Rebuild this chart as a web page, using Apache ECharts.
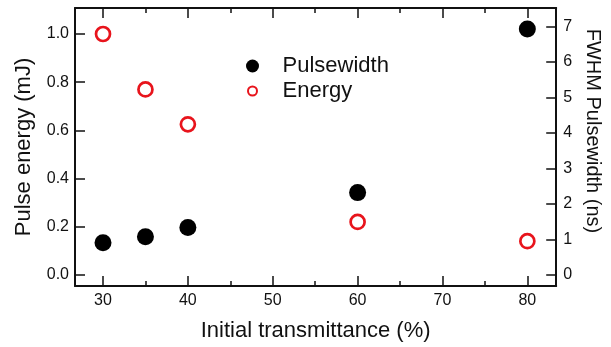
<!DOCTYPE html>
<html>
<head>
<meta charset="utf-8">
<script src="https://cdn.jsdelivr.net/npm/echarts@6/dist/echarts.min.js"></script>
<style>
    html, body { margin: 0; padding: 0; background: #fff; }
    #chart { width: 611px; height: 347px; }
</style>
</head>
<body>
<div id="chart"></div>
<script>
// initial transmittance (%)
var transmittance = [30, 35, 40, 60, 80];
// FWHM pulsewidth (ns), right axis
var pulsewidth = [0.91, 1.08, 1.34, 2.32, 6.93];
// pulse energy (mJ), left axis
var energy = [1.0, 0.77, 0.625, 0.22, 0.14];

var xTicks = [30, 40, 50, 60, 70, 80];
var energyTicks = [0, 0.2, 0.4, 0.6, 0.8, 1.0];
var widthTicks = [0, 1, 2, 3, 4, 5, 6, 7];

var font = 'Liberation Sans, Arial, Helvetica, sans-serif';
var red = '#e8141c';
var ink = '#111';

var chart = echarts.init(document.getElementById('chart'), null, { renderer: 'canvas' });

// onZero off, otherwise the x axes snap to y = 0
function axisLine() {
    return { show: true, onZero: false, lineStyle: { color: ink, width: 2 } };
}
function ticks(values, len) {
    return { show: true, inside: true, length: len, customValues: values, lineStyle: { color: ink, width: 1.5 } };
}
function minor() {
    return { show: true, splitNumber: 2, length: 5, lineStyle: { color: ink, width: 1.5 } };
}

function pairs(ys) {
    return transmittance.map(function (x, i) { return [x, ys[i]]; });
}

var option = {
    animation: false,
    backgroundColor: '#fff',
    textStyle: { fontFamily: font, color: ink },
    grid: { left: 75, right: 53, top: 8, bottom: 61, containLabel: false },
    legend: [
        {
            data: ['Pulsewidth'],
            orient: 'vertical',
            left: 246, top: 55,
            padding: 0,
            itemWidth: 50, itemHeight: 13,
            selectedMode: false,
            textStyle: { fontFamily: font, fontSize: 22, color: ink }
        },
        {
            data: [{ name: 'Energy', itemStyle: { color: '#fff', borderColor: red, borderWidth: 2 } }],
            orient: 'vertical',
            left: 247, top: 80,
            padding: 0,
            itemWidth: 50, itemHeight: 9,
            selectedMode: false,
            textStyle: { fontFamily: font, fontSize: 22, color: ink }
        }
    ],
    xAxis: [
        {
            type: 'value',
            position: 'bottom',
            min: 26.7, max: 83.4,
            name: 'Initial transmittance (%)',
            nameLocation: 'middle',
            nameGap: 34,
            nameTextStyle: { fontFamily: font, fontSize: 22, color: ink },
            axisLine: axisLine(),
            axisTick: ticks(xTicks, 10),
            minorTick: minor(),
            axisLabel: { customValues: xTicks, fontFamily: font, fontSize: 16, color: ink, margin: 7 },
            splitLine: { show: false }
        },
        {
            type: 'value',
            position: 'top',
            min: 26.7, max: 83.4,
            axisLine: axisLine(),
            axisTick: ticks(xTicks, 10),
            minorTick: minor(),
            axisLabel: { show: false },
            splitLine: { show: false }
        }
    ],
    yAxis: [
        {
            type: 'value',
            position: 'left',
            min: -0.046, max: 1.108,
            name: 'Pulse energy (mJ)',
            nameLocation: 'middle',
            nameGap: 40,
            nameTextStyle: { fontFamily: font, fontSize: 22, color: ink },
            axisLine: axisLine(),
            axisTick: ticks(energyTicks, 10),
            axisLabel: {
                customValues: energyTicks,
                fontFamily: font, fontSize: 16, color: ink, margin: 6,
                formatter: function (v) { return v.toFixed(1); }
            },
            splitLine: { show: false }
        },
        {
            type: 'value',
            position: 'right',
            min: -0.31, max: 7.52,
            name: 'FWHM Pulsewidth (ns)',
            nameLocation: 'middle',
            nameRotate: -90,
            nameGap: 26,
            nameTextStyle: { fontFamily: font, fontSize: 20, color: ink, padding: [0, 32, 0, 0] },
            axisLine: axisLine(),
            axisTick: ticks(widthTicks, 10),
            axisLabel: { customValues: widthTicks, fontFamily: font, fontSize: 16, color: ink, margin: 7 },
            splitLine: { show: false }
        }
    ],
    series: [
        {
            name: 'Pulsewidth',
            type: 'scatter',
            xAxisIndex: 0,
            yAxisIndex: 1,
            symbol: 'circle',
            symbolSize: 17,
            itemStyle: { color: '#000', opacity: 1 },
            data: pairs(pulsewidth)
        },
        {
            name: 'Energy',
            type: 'scatter',
            xAxisIndex: 0,
            yAxisIndex: 0,
            symbol: 'circle',
            symbolSize: 14,
            itemStyle: { color: '#fff', borderColor: red, borderWidth: 2.7, opacity: 1 },
            data: pairs(energy)
        }
    ]
};

option && chart.setOption(option);
</script>
</body>
</html>
